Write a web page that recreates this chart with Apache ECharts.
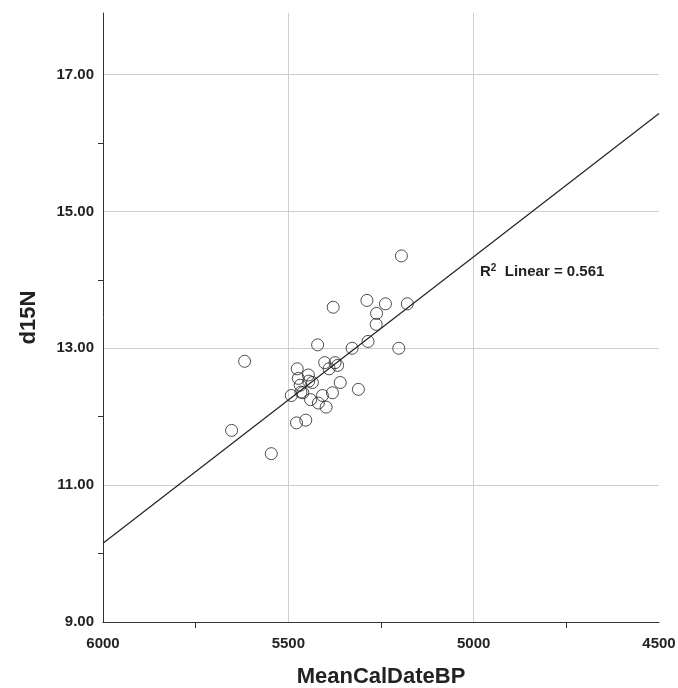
<!DOCTYPE html>
<html>
<head>
<meta charset="utf-8">
<script src="https://cdn.jsdelivr.net/npm/echarts@6/dist/echarts.min.js"></script>
<style>
  html, body { margin: 0; padding: 0; background: #fff; }
  #main { width: 678px; height: 688px; }
</style>
</head>
<body>
<div id="main"></div>
<script>
// MeanCalDateBP vs d15N
var dates = [5195, 5379, 5288, 5238, 5179, 5262, 5263, 5285, 5328, 5202,
             5421, 5618, 5402, 5374, 5367, 5390, 5476, 5446, 5473, 5445,
             5435, 5360, 5468, 5311, 5466, 5461, 5492, 5381, 5408, 5440,
             5419, 5398, 5453, 5478, 5653, 5546];
var d15n = [14.35, 13.60, 13.70, 13.65, 13.65, 13.51, 13.35, 13.10, 13.00, 13.00,
            13.05, 12.81, 12.79, 12.79, 12.75, 12.70, 12.70, 12.61, 12.56, 12.52,
            12.50, 12.50, 12.46, 12.40, 12.36, 12.35, 12.31, 12.35, 12.31, 12.25,
            12.20, 12.14, 11.95, 11.91, 11.80, 11.46];
// fit line ends
var fitX = [6000, 4500];
var fitY = [10.15, 16.43];
var rSquared = '0.561';

var xMin = 4500, xMax = 6000, yMin = 9, yMax = 17.9, yTopTick = 17;

var chart = echarts.init(document.getElementById('main'));
var W = 678, H = 688;
var gLeft = 103, gRight = 19, gTop = 13, gBottom = 66;
var plotH = H - gTop - gBottom;
var top17 = gTop + plotH * (yMax - yTopTick) / (yMax - yMin);

var labelFont = { color: '#222', fontFamily: 'Liberation Sans', fontWeight: 'bold', fontSize: 15 };

var points = dates.map(function (d, i) { return [d, d15n[i]]; });
var fit = fitX.map(function (d, i) { return [d, fitY[i]]; });

chart.setOption({
  animation: false,
  backgroundColor: '#fff',
  grid: [
    { left: gLeft, right: gRight, top: gTop, bottom: gBottom, containLabel: false, outerBoundsMode: 'none' },
    { left: gLeft, right: gRight, top: top17, bottom: gBottom, containLabel: false, outerBoundsMode: 'none' }
  ],
  xAxis: [
    {
      gridIndex: 0, type: 'value', min: xMin, max: xMax, interval: 500, inverse: true,
      name: 'MeanCalDateBP', nameLocation: 'middle', nameGap: 44,
      nameTextStyle: { color: '#222', fontFamily: 'Liberation Sans', fontWeight: 'bold', fontSize: 22 },
      axisLine: { lineStyle: { color: '#333', width: 1 } },
      axisTick: { show: false },
      minorTick: { show: true, splitNumber: 2, length: 6, lineStyle: { color: '#333', width: 1 } },
      axisLabel: Object.assign({ margin: 14, formatter: function (v) { return String(v); } }, labelFont),
      splitLine: { show: true, showMinLine: false, showMaxLine: false, lineStyle: { color: '#cfcfcf', width: 1 } }
    },
    {
      gridIndex: 1, type: 'value', min: xMin, max: xMax, inverse: true, show: false
    }
  ],
  yAxis: [
    {
      gridIndex: 0, type: 'value', min: yMin, max: yMax, interval: 2,
      name: 'd15N', nameLocation: 'middle', nameGap: 63,
      nameTextStyle: { color: '#222', fontFamily: 'Liberation Sans', fontWeight: 'bold', fontSize: 22 },
      axisLine: { show: true, lineStyle: { color: '#333', width: 1 } },
      axisTick: { show: false },
      axisLabel: Object.assign({ margin: 9, showMaxLabel: false, formatter: function (v) { return v.toFixed(2); } }, labelFont),
      splitLine: { show: true, showMinLine: false, showMaxLine: false, lineStyle: { color: '#cfcfcf', width: 1 } }
    },
    {
      // only for the unlabeled ticks at 10, 12, 14, 16
      gridIndex: 1, type: 'value', min: yMin, max: yTopTick, interval: 2,
      axisLine: { show: false },
      axisTick: { show: false },
      axisLabel: { show: false },
      splitLine: { show: false },
      minorTick: { show: true, splitNumber: 2, length: 5, lineStyle: { color: '#333', width: 1 } }
    }
  ],
  series: [
    {
      type: 'line', xAxisIndex: 0, yAxisIndex: 0, data: fit,
      symbol: 'none', lineStyle: { color: '#222', width: 1.2 }, z: 2
    },
    {
      type: 'scatter', xAxisIndex: 0, yAxisIndex: 0, data: points,
      symbol: 'circle', symbolSize: 12,
      itemStyle: { color: 'rgba(0,0,0,0)', borderColor: '#222', borderWidth: 1 }, z: 3
    }
  ],
  graphic: [
    {
      type: 'text', left: 480, top: 263,
      style: {
        text: 'R{sup|2}  Linear = ' + rSquared,
        fill: '#222', fontFamily: 'Liberation Sans', fontWeight: 'bold', fontSize: 15,
        rich: {
          sup: { fontSize: 10, fontWeight: 'bold', fontFamily: 'Liberation Sans', fill: '#222', verticalAlign: 'top', padding: [0, 0, 8, 0] }
        }
      }
    }
  ]
});
</script>
</body>
</html>
